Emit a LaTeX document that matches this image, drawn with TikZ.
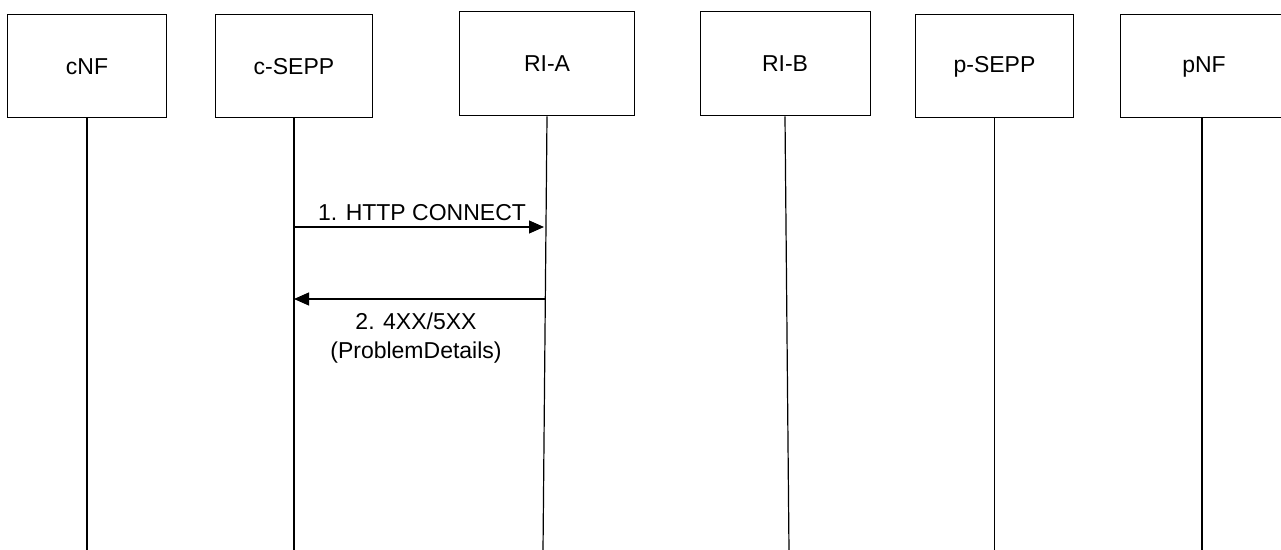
\documentclass[tikz,border=0pt]{standalone}
\usepackage{fontspec}
\setmainfont{Liberation Sans}
\usetikzlibrary{arrows.meta}
\begin{document}
\begin{tikzpicture}[x=0.5pt,y=-0.5pt,
  lbl/.style={font=\fontsize{11.5}{14.5}\selectfont},
  entity/.style={draw=black, line width=0.5pt, fill=white, inner sep=0pt, lbl},
  life/.style={draw=black, line width=0.6pt},
  msg/.style={draw=black, line width=0.6pt, -{Triangle[length=7.5pt,width=6.5pt]}}]
\useasboundingbox (0,0) rectangle (1281,550);
% entities
\node[entity, minimum width=79.5pt, minimum height=51.5pt] (cnf)   at (87,66.5)   {cNF};
\node[entity, minimum width=78.5pt, minimum height=51.5pt] (csepp) at (294,66.5)  {c-SEPP};
\node[entity, minimum width=87.5pt, minimum height=52pt]   (ria)   at (547,64)    {RI-A};
\node[entity, minimum width=85pt,   minimum height=52pt]   (rib)   at (785,64)    {RI-B};
\node[entity, minimum width=79pt,   minimum height=51.5pt] (psepp) at (994.5,66.5){p-SEPP};
\node[entity, minimum width=84pt,   minimum height=51.5pt] (pnf)   at (1204,66.5) {pNF};
% lifeline ends
\coordinate (cnfE)   at (87,551);
\coordinate (cseppE) at (294,551);
\coordinate (riaE)   at (543,551);
\coordinate (ribE)   at (789,551);
\coordinate (pseppE) at (994.5,551);
\coordinate (pnfE)   at (1202,551);
\draw[life] (cnf.south) -- (cnfE);
\draw[life] (csepp.south) -- (cseppE);
\draw[life] (ria.south) -- (riaE);
\draw[life] (rib.south) -- (ribE);
\draw[life] (psepp.south) -- (pseppE);
\draw[life] (pnf.south -| pnfE) -- (pnfE);
% messages
\coordinate (m1s) at (294,227);
\coordinate (m1e) at (544,227);
\coordinate (m2s) at (545,299);
\coordinate (m2e) at (294,299);
\draw[msg] (m1s) -- (m1e);
\draw[msg] (m2s) -- (m2e);
\node[lbl, anchor=base, inner sep=0pt] (l1) at (422,221) {1. HTTP CONNECT};
\node[lbl, anchor=north, inner sep=0pt, align=center] (l2) at (416,312) {2. 4XX/5XX\\(ProblemDetails)};
\end{tikzpicture}
\end{document}
